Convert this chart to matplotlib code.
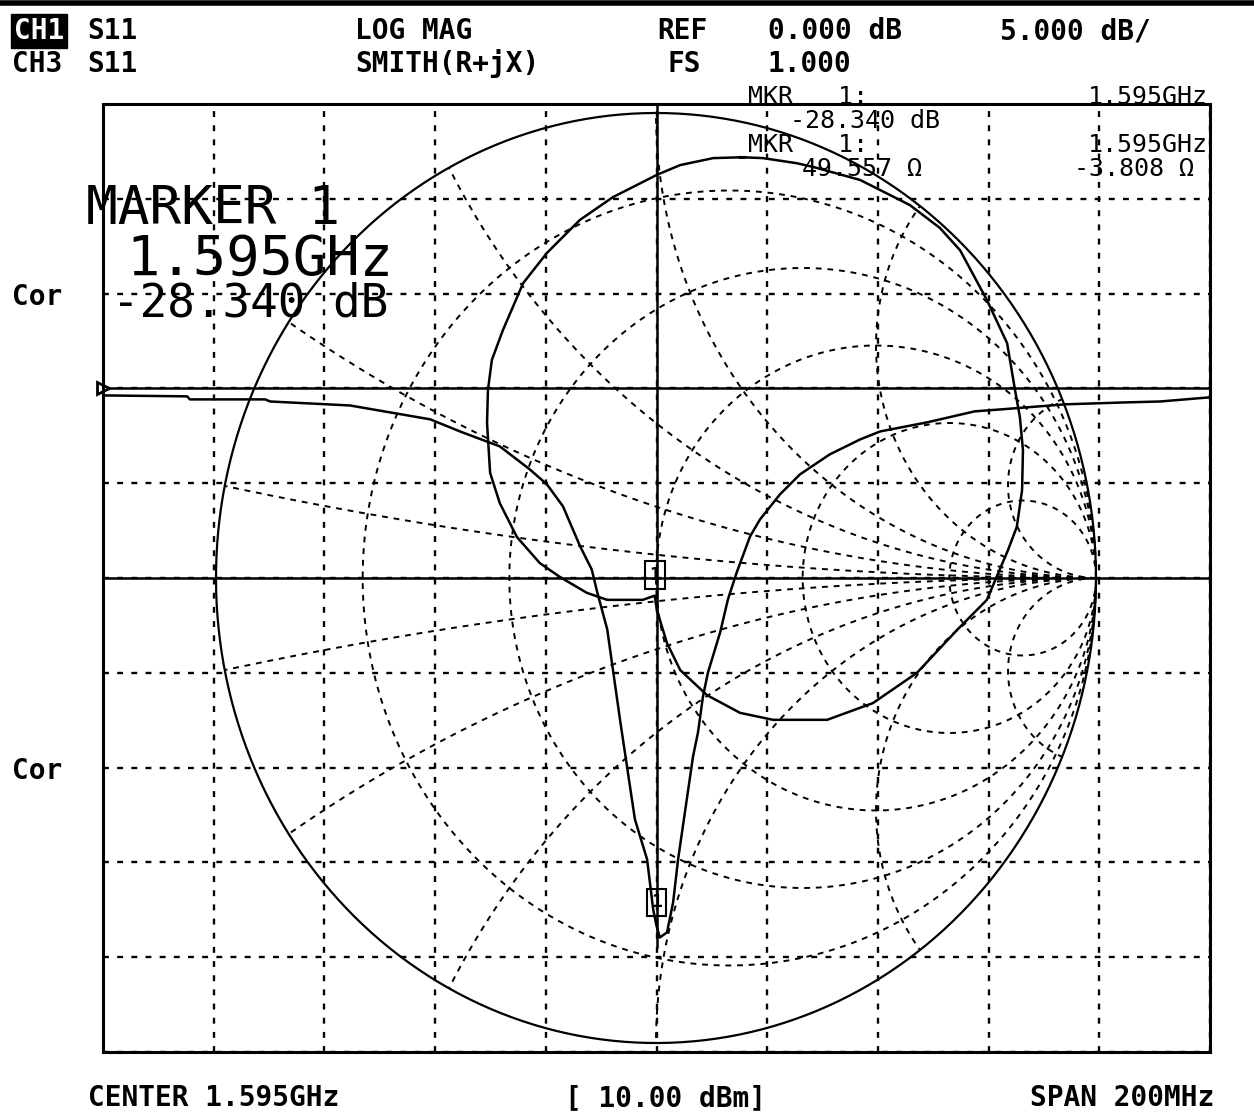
import numpy as np
import matplotlib.pyplot as plt

# ---- data ----
f_start, f_stop = 1.495, 1.695          # GHz
f_center = 1.595
db_top, db_bottom = 15.0, -35.0         # REF 0 dB on 3rd line, 5 dB/div

# CH1 log-mag trace (GHz, dB)
lm_freq = [1.4950, 1.5102, 1.5107, 1.5243, 1.5252, 1.5396, 1.5541, 1.5595,
           1.5667, 1.5721, 1.5752, 1.5781, 1.5812, 1.5833, 1.5843, 1.5861,
           1.5884, 1.5911, 1.5933, 1.5944, 1.5950, 1.5956, 1.5969, 1.5980,
           1.5989, 1.6016, 1.6025, 1.6034, 1.6043, 1.6065, 1.6079, 1.6095,
           1.6119, 1.6137, 1.6173, 1.6209, 1.6263, 1.6318, 1.6354, 1.6439,
           1.6525, 1.6571, 1.6688, 1.6796, 1.6860, 1.6950]
lm_db = [-0.37, -0.42, -0.58, -0.58, -0.69, -0.90, -1.63, -2.27,
         -3.06, -4.27, -5.06, -6.22, -8.33, -9.55, -10.76, -12.71,
         -17.46, -22.73, -24.84, -27.48, -28.34, -28.96, -28.69, -27.11,
         -24.84, -19.41, -18.14, -16.24, -14.98, -12.87, -11.13, -9.70,
         -7.81, -6.91, -5.59, -4.54, -3.48, -2.69, -2.27, -1.79,
         -1.21, -1.11, -0.84, -0.74, -0.69, -0.47]

# CH3 Smith trace, reflection coefficient (real, imag)
sm_re = [0.202, 0.130, 0.055, 0.002, -0.098, -0.173, -0.248, -0.302, -0.348,
         -0.373, -0.382, -0.384, -0.377, -0.355, -0.316, -0.264, -0.218,
         -0.157, -0.111, -0.030, -0.003, 0.002, 0.025, 0.055, 0.116, 0.191,
         0.266, 0.389, 0.493, 0.593, 0.684, 0.752, 0.800, 0.820, 0.832,
         0.834, 0.827, 0.816, 0.798, 0.752, 0.691, 0.645, 0.577, 0.464,
         0.357, 0.320, 0.243, 0.191]
sm_im = [0.905, 0.903, 0.888, 0.867, 0.819, 0.770, 0.699, 0.634, 0.533,
         0.469, 0.404, 0.333, 0.226, 0.161, 0.088, 0.032, 0.002,
         -0.032, -0.047, -0.047, -0.038, -0.069, -0.140, -0.198, -0.252, -0.290,
         -0.305, -0.305, -0.269, -0.204, -0.112, -0.047, 0.060, 0.110, 0.189,
         0.275, 0.346, 0.404, 0.505, 0.598, 0.705, 0.753, 0.802, 0.856,
         0.884, 0.892, 0.903, 0.905]

# marker 1 readouts
mkr_db = -28.340
mkr_R, mkr_X, z0 = 49.557, -3.808, 50.0

# Smith chart graticule values
r_circles = [0.2, 0.5, 1.0, 2.0, 5.0]
x_arcs = [0.1, 0.3, 0.6, 1.0, 2.0, 5.0]

W, H = 1254, 1117
fig = plt.figure(figsize=(W / 100, H / 100), dpi=100)
fig.patch.set_facecolor('white')

def px(x, y):
    return x / W, 1 - y / H

pos = [103 / W, (H - 1052) / H, 1107 / W, 948 / H]
dots = (0, (2.5, 3.5))
sdots = (0, (3, 3))

# ---- log mag axes + graticule ----
ax = fig.add_axes(pos)
ax.set_xlim(f_start, f_stop)
ax.set_ylim(db_bottom, db_top)
ax.set_xticks(np.linspace(f_start, f_stop, 11))
ax.set_yticks(np.arange(db_bottom, db_top + 1, 5))
ax.grid(True, color='black', linestyle=dots, linewidth=1.7)
ax.tick_params(length=0, labelbottom=False, labelleft=False)
for s in ax.spines.values():
    s.set_linewidth(2.2)
ax.axhline(0, color='black', lw=1.8)
ax.vlines(f_center, -29.5, db_top, color='black', lw=1.8)
ax.plot(lm_freq, lm_db, color='black', lw=1.8)
ax.plot([f_start], [0], marker='>', ms=9, mfc='white', mec='black', mew=2,
        clip_on=False)
ax.annotate('1', (f_center, mkr_db), xytext=(0, 17), textcoords='offset points',
            ha='center', va='center', fontsize=13, fontweight='bold',
            family='DejaVu Sans Mono',
            bbox=dict(boxstyle='square,pad=0.25', fc='none', ec='black', lw=1.5))

# ---- smith chart axes ----
sm = fig.add_axes(pos)
sm.patch.set_alpha(0)
sm.set_xlim(-(656 - 103) / 440, (1210 - 656) / 440)
sm.set_ylim(-(1052 - 578) / 465, (578 - 104) / 465)
sm.axis('off')

t = np.linspace(0, 2 * np.pi, 720)
sm.plot(np.cos(t), np.sin(t), color='black', lw=1.6)
sm.axhline(0, color='black', lw=1.8)
for r in r_circles:
    c, rad = r / (1 + r), 1 / (1 + r)
    sm.plot(c + rad * np.cos(t), rad * np.sin(t), color='black', lw=1.4, linestyle=sdots)
for xv in x_arcs:
    rad = 1 / xv
    # arc from the open-circuit point to where it meets the outer circle
    a_end = np.arctan2(2 * xv / (xv ** 2 + 1) - rad, (xv ** 2 - 1) / (xv ** 2 + 1) - 1)
    a = np.linspace(1.5 * np.pi, a_end % (2 * np.pi), 600)
    for sgn in (1, -1):
        sm.plot(1 + rad * np.cos(a), sgn * (rad + rad * np.sin(a)),
                color='black', lw=1.4, linestyle=sdots)

sm.plot(sm_re, sm_im, color='black', lw=1.8)
z = complex(mkr_R, mkr_X) / z0
g = (z - 1) / (z + 1)
sm.annotate('1', (g.real, g.imag), xytext=(0, 15), textcoords='offset points',
            ha='center', va='center', fontsize=13, fontweight='bold',
            family='DejaVu Sans Mono',
            bbox=dict(boxstyle='square,pad=0.25', fc='none', ec='black', lw=1.5))

# ---- screen annotations ----
hdr = dict(family='DejaVu Sans Mono', fontweight='bold', fontsize=20, va='center')
fig.add_artist(plt.Line2D([0, 1], [1 - 3 / H, 1 - 3 / H], color='black', lw=4))
fig.text(*px(14, 31), 'CH1', color='white',
         bbox=dict(boxstyle='square,pad=0.1', fc='black', ec='black'), **hdr)
fig.text(*px(87, 31), 'S11', **hdr)
fig.text(*px(355, 31), 'LOG MAG', **hdr)
fig.text(*px(657, 31), 'REF', **hdr)
fig.text(*px(768, 31), '0.000 dB', **hdr)
fig.text(*px(1000, 31), '5.000 dB/', **hdr)
fig.text(*px(12, 64), 'CH3', **hdr)
fig.text(*px(87, 64), 'S11', **hdr)
fig.text(*px(355, 64), 'SMITH(R+jX)', **hdr)
fig.text(*px(667, 64), 'FS', **hdr)
fig.text(*px(768, 64), '1.000', **hdr)
fig.text(*px(12, 297), 'Cor', **hdr)
fig.text(*px(12, 771), 'Cor', **hdr)
fig.text(*px(88, 1098), 'CENTER 1.595GHz', **hdr)
fig.text(*px(565, 1098), '[ 10.00 dBm]', **hdr)
fig.text(*px(1030, 1098), 'SPAN 200MHz', **hdr)

ro = dict(family='DejaVu Sans Mono', fontsize=18, va='center')
fig.text(*px(748, 97), 'MKR   1:', **ro)
fig.text(*px(1208, 97), '1.595GHz', ha='right', **ro)
fig.text(*px(790, 121), f'{mkr_db:.3f} dB', **ro)
fig.text(*px(748, 145), 'MKR   1:', **ro)
fig.text(*px(1208, 145), '1.595GHz', ha='right', **ro)
fig.text(*px(802, 169), f'{mkr_R:.3f} \u03a9', **ro)
fig.text(*px(1194, 169), f'{mkr_X:.3f} \u03a9', ha='right', **ro)

big = dict(family='DejaVu Sans Mono', va='baseline')
fig.text(*px(86, 224), 'MARKER 1', fontsize=38, **big)
fig.text(*px(126, 275), '1.595GHz', fontsize=40, **big)
fig.text(*px(112, 317), f'{mkr_db:.3f} dB', fontsize=33, **big)

fig.savefig('out.png', dpi=100)
